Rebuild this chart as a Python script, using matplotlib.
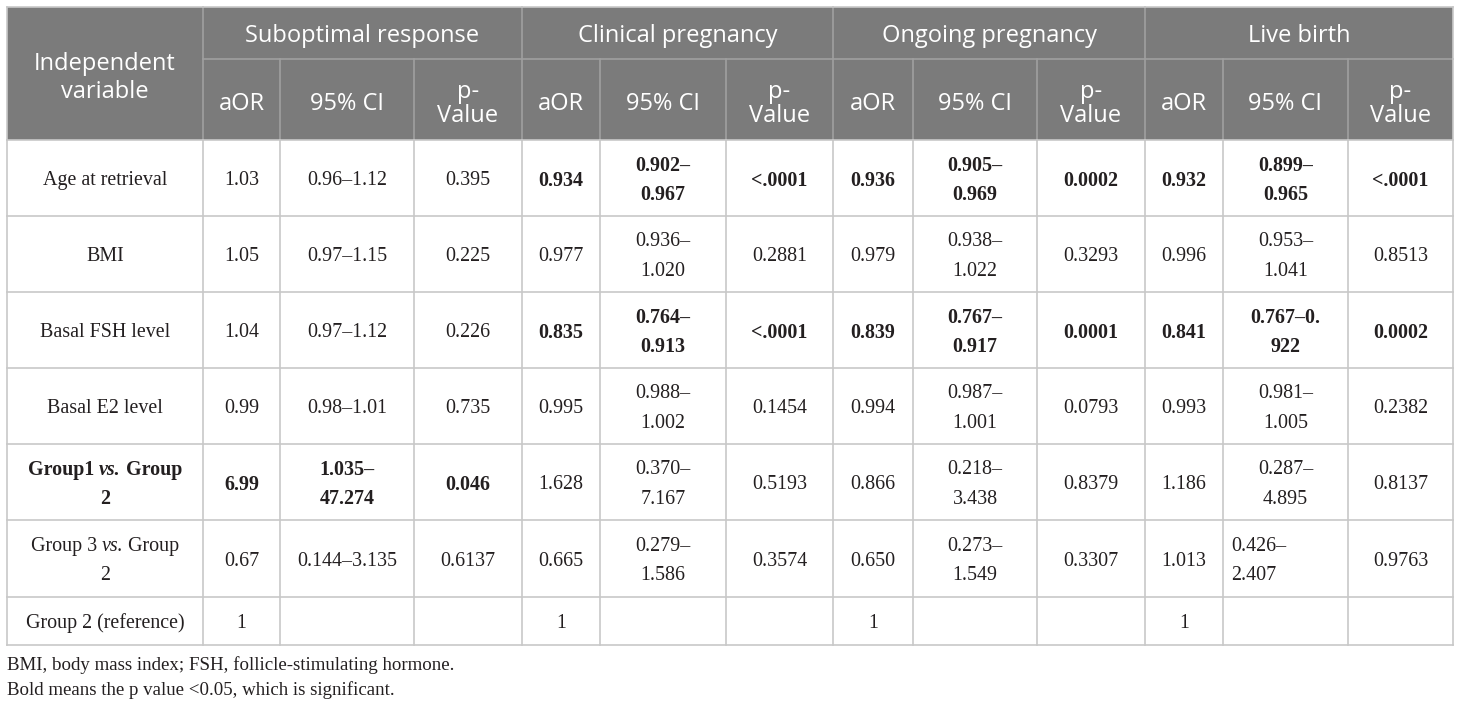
import matplotlib
matplotlib.use("Agg")
import matplotlib.pyplot as plt
from matplotlib.patches import Rectangle

# ---------------- data ----------------
groups = ["Suboptimal response", "Clinical pregnancy", "Ongoing pregnancy", "Live birth"]
subheads = ["aOR", "95% CI", "p-\nValue"]
row_labels = ["Age at retrieval", "BMI", "Basal FSH level", "Basal E2 level",
              "Group1 vs. Group\n2", "Group 3 vs. Group\n2", "Group 2 (reference)"]

sub_aor = ["1.03", "1.05", "1.04", "0.99", "6.99", "0.67", "1"]
sub_ci = ["0.96–1.12", "0.97–1.15", "0.97–1.12", "0.98–1.01", "1.035–\n47.274", "0.144–3.135", ""]
sub_p = ["0.395", "0.225", "0.226", "0.735", "0.046", "0.6137", ""]

cp_aor = ["0.934", "0.977", "0.835", "0.995", "1.628", "0.665", "1"]
cp_ci = ["0.902–\n0.967", "0.936–\n1.020", "0.764–\n0.913", "0.988–\n1.002", "0.370–\n7.167", "0.279–\n1.586", ""]
cp_p = ["<.0001", "0.2881", "<.0001", "0.1454", "0.5193", "0.3574", ""]

op_aor = ["0.936", "0.979", "0.839", "0.994", "0.866", "0.650", "1"]
op_ci = ["0.905–\n0.969", "0.938–\n1.022", "0.767–\n0.917", "0.987–\n1.001", "0.218–\n3.438", "0.273–\n1.549", ""]
op_p = ["0.0002", "0.3293", "0.0001", "0.0793", "0.8379", "0.3307", ""]

lb_aor = ["0.932", "0.996", "0.841", "0.993", "1.186", "1.013", "1"]
lb_ci = ["0.899–\n0.965", "0.953–\n1.041", "0.767–0.\n922", "0.981–\n1.005", "0.287–\n4.895", "0.426–\n2.407", ""]
lb_p = ["<.0001", "0.8513", "0.0002", "0.2382", "0.8137", "0.9763", ""]

# rows in bold (significant) per outcome group
bold_rows = [[4], [0, 2], [0, 2], [0, 2]]
bold_label_rows = [4]

footnotes = ["BMI, body mass index; FSH, follicle-stimulating hormone.",
             "Bold means the p value <0.05, which is significant."]

# ---------------- layout ----------------
W, H = 1460, 707
col_edges = [7, 203, 280, 414, 522, 600, 726, 833, 913, 1037, 1145, 1223, 1348, 1453]
row_edges = [7, 59, 140, 216, 292, 368, 444, 520, 597, 645]
header_bg = "#7b7b7b"
header_line = "#a0a0a0"
grid_col = "#c8c8c8"
text_col = "#231f20"
HFONT = "Open Sans"
BFONT = "Liberation Serif"
hsize = 17
bsize = 14.4
line_gap = 29    # px between lines in body cells
hline_gap = 24   # px between lines in header cells

fig = plt.figure(figsize=(W / 100, H / 100), dpi=100)
ax = fig.add_axes([0, 0, 1, 1])
ax.set_xlim(0, W)
ax.set_ylim(H, 0)
ax.axis("off")

# header background
ax.add_patch(Rectangle((col_edges[0], row_edges[0]), col_edges[-1] - col_edges[0],
                       row_edges[2] - row_edges[0], facecolor=header_bg, edgecolor="none"))

# header lines
for gi in range(1, 4):
    x = col_edges[1 + 3 * gi]
    ax.plot([x, x], [row_edges[0], row_edges[2]], color=header_line, lw=1.2)
ax.plot([col_edges[1], col_edges[1]], [row_edges[0], row_edges[2]], color=header_line, lw=1.2)
for ci in range(1, 13):
    if ci % 3 != 1:
        x = col_edges[ci]
        ax.plot([x, x], [row_edges[1], row_edges[2]], color=header_line, lw=1.2)
ax.plot([col_edges[1], col_edges[-1]], [row_edges[1], row_edges[1]], color=header_line, lw=1.2)

# body grid
for x in col_edges:
    ax.plot([x, x], [row_edges[2], row_edges[-1]], color=grid_col, lw=1.2)
for y in row_edges[2:]:
    ax.plot([col_edges[0], col_edges[-1]], [y, y], color=grid_col, lw=1.2)
ax.plot([col_edges[0], col_edges[-1]], [row_edges[0], row_edges[0]], color=grid_col, lw=1.2)
for x in (col_edges[0], col_edges[-1]):
    ax.plot([x, x], [row_edges[0], row_edges[2]], color=grid_col, lw=1.2)


def multiline(x, yc, text, gap, ha="center", **kw):
    lines = text.split("\n")
    n = len(lines)
    for i, ln in enumerate(lines):
        y = yc + (i - (n - 1) / 2) * gap
        ax.text(x, y, ln, ha=ha, va="center_baseline", **kw)


# header texts
multiline((col_edges[0] + col_edges[1]) / 2, (row_edges[0] + row_edges[2]) / 2 + 1,
          "Independent\nvariable", 28, color="white", family=HFONT, fontsize=hsize)
for gi, g in enumerate(groups):
    x0, x1 = col_edges[1 + 3 * gi], col_edges[4 + 3 * gi]
    ax.text((x0 + x1) / 2, (row_edges[0] + row_edges[1]) / 2, g, ha="center",
            va="center_baseline", color="white", family=HFONT, fontsize=hsize)
    for si, s in enumerate(subheads):
        c = 1 + 3 * gi + si
        multiline((col_edges[c] + col_edges[c + 1]) / 2, (row_edges[1] + row_edges[2]) / 2 + 2,
                  s, hline_gap, color="white", family=HFONT, fontsize=hsize)

# row labels (with italic "vs.")
fig.canvas.draw()
renderer = fig.canvas.get_renderer()


def text_width(s, **kw):
    t = ax.text(0, 0, s, **kw)
    bb = t.get_window_extent(renderer=renderer)
    t.remove()
    return bb.width


for r, lab in enumerate(row_labels):
    yc = (row_edges[2 + r] + row_edges[3 + r]) / 2
    xc = (col_edges[0] + col_edges[1]) / 2
    weight = "bold" if r in bold_label_rows else "normal"
    lines = lab.split("\n")
    n = len(lines)
    for i, ln in enumerate(lines):
        y = yc + (i - (n - 1) / 2) * line_gap
        if " vs. " in ln:
            a, b = ln.split(" vs. ")
            parts = [(a + " ", "normal"), ("vs.", "italic"), (" " + b, "normal")]
            widths = [text_width(p, family=BFONT, fontsize=bsize, weight=weight, style=st)
                      for p, st in parts]
            x = xc - sum(widths) / 2
            for (p, st), w in zip(parts, widths):
                ax.text(x, y, p, ha="left", va="center_baseline", family=BFONT,
                        fontsize=bsize, weight=weight, style=st, color=text_col)
                x += w
        else:
            ax.text(xc, y, ln, ha="center", va="center_baseline", family=BFONT,
                    fontsize=bsize, weight=weight, color=text_col)

# body values
columns = [sub_aor, sub_ci, sub_p, cp_aor, cp_ci, cp_p, op_aor, op_ci, op_p, lb_aor, lb_ci, lb_p]
left_cells = {(10, 5)}
for ci, col in enumerate(columns):
    gi = ci // 3
    for r, val in enumerate(col):
        if not val:
            continue
        c = ci + 1
        yc = (row_edges[2 + r] + row_edges[3 + r]) / 2
        weight = "bold" if r in bold_rows[gi] else "normal"
        if (ci, r) in left_cells:
            multiline(col_edges[c] + 8, yc, val, line_gap, ha="left", family=BFONT,
                      fontsize=bsize, weight=weight, color=text_col)
        else:
            multiline((col_edges[c] + col_edges[c + 1]) / 2, yc, val, line_gap,
                      family=BFONT, fontsize=bsize, weight=weight, color=text_col)

# footnotes
for i, fn in enumerate(footnotes):
    ax.text(col_edges[0], 663 + i * 25, fn, ha="left", va="center_baseline",
            family=BFONT, fontsize=13.6, color=text_col)

fig.savefig("out.png", dpi=100)
